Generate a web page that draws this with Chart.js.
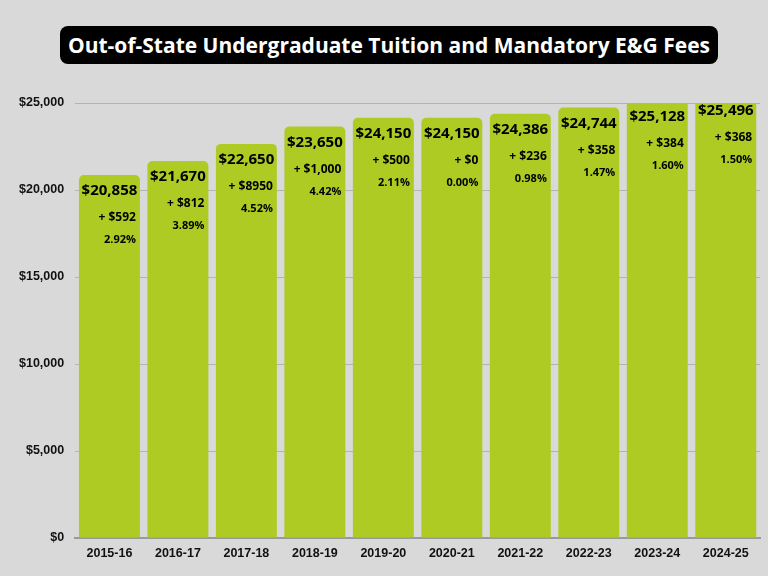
<!DOCTYPE html>
<html>
<head>
<meta charset="utf-8">
<script src="https://cdn.jsdelivr.net/npm/chart.js@4/dist/chart.umd.min.js"></script>
<style>
  html, body { margin: 0; padding: 0; background: #d9d9d9; }
  #wrap { position: relative; width: 768px; height: 576px; }
  #title {
    position: absolute; left: 60px; top: 26px; width: 658px; height: 38px;
    background: #000; border-radius: 8px; color: #fff;
    font-family: "Open Sans", sans-serif; font-weight: 700; font-size: 21px;
    line-height: 38px; text-align: center;
  }
</style>
</head>
<body>
<div id="wrap">
  <div id="title">Out-of-State Undergraduate Tuition and Mandatory E&amp;G Fees</div>
  <canvas id="bar" width="768" height="576"></canvas>
</div>
<script>
let years = ['2015-16', '2016-17', '2017-18', '2018-19', '2019-20', '2020-21', '2021-22', '2022-23', '2023-24', '2024-25'];
let tuition = [20858, 21670, 22650, 23650, 24150, 24150, 24386, 24744, 25128, 25496];
let changeLabels = ['+ $592', '+ $812', '+ $8950', '+ $1,000', '+ $500', '+ $0', '+ $236', '+ $358', '+ $384', '+ $368'];
let pctLabels = ['2.92%', '3.89%', '4.52%', '4.42%', '2.11%', '0.00%', '0.98%', '1.47%', '1.60%', '1.50%'];
let yTicks = [0, 5000, 10000, 15000, 20000, 25000];

var barLabels = {
    id: 'barLabels',
    afterDatasetsDraw(chart) {
        let ctx = chart.ctx;
        let meta = chart.getDatasetMeta(0);
        ctx.save();
        ctx.fillStyle = '#000';
        ctx.textBaseline = 'middle';
        meta.data.forEach(function (bar, i) {
            let right = bar.x + bar.width / 2 - 4;
            ctx.font = 'bold 15px "Open Sans"';
            ctx.textAlign = 'center';
            ctx.fillText('$' + tuition[i].toLocaleString('en-US'), bar.x, bar.y + 16);
            ctx.font = 'bold 12px "Open Sans"';
            ctx.textAlign = 'right';
            ctx.fillText(changeLabels[i], right, bar.y + 43);
            ctx.font = 'bold 11px "Open Sans"';
            ctx.fillText(pctLabels[i], right, bar.y + 65);
        });
        ctx.restore();
    }
};

var chart = document.getElementById('bar').getContext('2d');
chart = new Chart(chart, {
    type: 'bar',
    data: {
        labels: years,
        datasets: [{
            data: tuition,
            backgroundColor: '#adcb23',
            borderRadius: 5,
            barPercentage: 0.89,
            categoryPercentage: 1.0
        }]
    },
    plugins: [barLabels],
    options: {
        responsive: false,
        animation: false,
        layout: { padding: { top: 103, right: 8, left: 8, bottom: 15 } },
        plugins: { legend: { display: false }, tooltip: { enabled: false } },
        scales: {
            y: {
                min: 0,
                max: 25000,
                afterBuildTicks: function (axis) {
                    axis.ticks = yTicks.map(v => ({ value: v }));
                },
                border: { display: false },
                grid: { color: '#b3b3b3', drawTicks: false, lineWidth: 1 },
                ticks: {
                    padding: 11,
                    color: '#111',
                    font: { family: '"Liberation Sans"', weight: 'bold', size: 12.5 },
                    callback: v => '$' + v.toLocaleString('en-US')
                }
            },
            x: {
                border: { display: true, color: '#999', width: 2 },
                grid: { display: false },
                ticks: {
                    padding: 0,
                    color: '#111',
                    font: { family: '"Liberation Sans"', weight: 'bold', size: 12.5 }
                }
            }
        }
    }
});
</script>
</body>
</html>
